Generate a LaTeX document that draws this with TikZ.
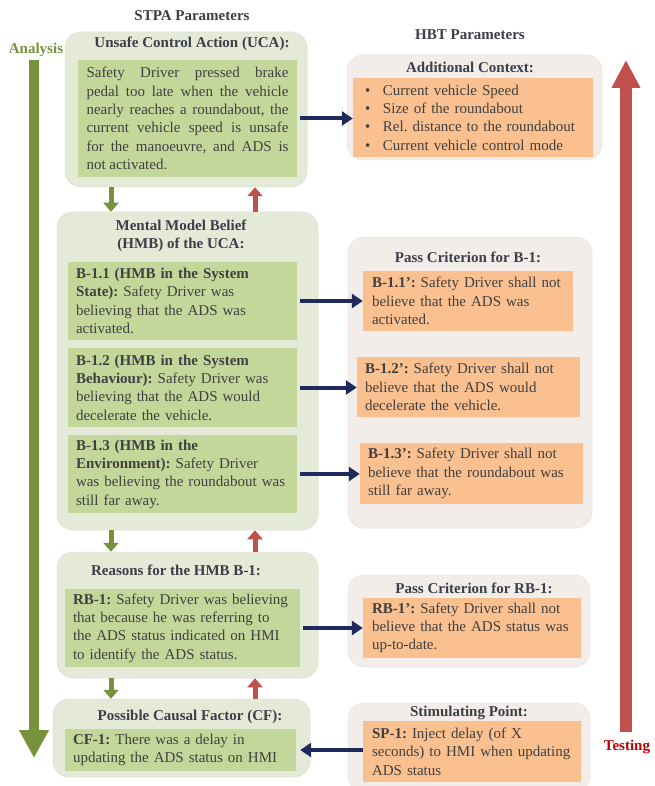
\documentclass[tikz,border=0pt]{standalone}
\usepackage{fontspec}
\setmainfont{Liberation Serif}
\usetikzlibrary{arrows.meta}
\definecolor{outg}{RGB}{228,233,216}
\definecolor{ing}{RGB}{196,215,155}
\definecolor{outb}{RGB}{242,237,232}
\definecolor{inb}{RGB}{250,192,144}
\definecolor{navyc}{RGB}{31,42,92}
\definecolor{greenc}{RGB}{118,146,60}
\definecolor{redc}{RGB}{192,80,77}
\definecolor{txt}{RGB}{64,64,64}
\definecolor{ttlc}{RGB}{60,62,72}
\definecolor{testc}{RGB}{192,0,0}
\newcommand{\bodyf}{\frenchspacing\hyphenpenalty=10000\fontsize{15}{18.3}\selectfont}
\frenchspacing
\begin{document}
\begin{tikzpicture}[x=1pt,y=-1pt,
  outerg/.style={fill=outg, rounded corners=16pt, inner sep=0, draw=outg!90!gray, line width=0.5pt},
  outerb/.style={fill=outb, rounded corners=16pt, inner sep=0, draw=outb!90!gray, line width=0.5pt},
  ingbox/.style={fill=ing, inner sep=0, align=left, font=\bodyf, text=txt},
  inbbox/.style={fill=inb, inner sep=0, align=left, font=\bodyf, text=txt},
  ttl/.style={font=\bodyf\bfseries, text=ttlc, inner sep=0, align=center},
  navyarr/.style={draw=navyc, line width=4pt, -{Triangle[length=11pt,width=14pt]}},
  garr/.style={draw=greenc, line width=5pt, -{Triangle[length=9pt,width=15pt]}},
  rarr/.style={draw=redc, line width=5pt, -{Triangle[length=9pt,width=15pt]}}
]
\useasboundingbox (0,0) rectangle (654,786);
\fill[white] (0,0) rectangle (654,786);

% headers
\node[ttl] (stpa) at (192,16) {STPA Parameters};
\node[ttl] (hbt) at (470,35) {HBT Parameters};
\node[ttl, text=greenc] (analysis) at (36,50) {Analysis};
\node[ttl, text=testc] (testing) at (627,747) {Testing};

% big arrows
\coordinate (gtop) at (34,60);
\coordinate (gbot) at (34,758);
\coordinate (rbot) at (626,732);
\coordinate (rtop) at (626,60);
\draw[draw=greenc, line width=10pt, -{Triangle[length=28pt,width=28pt]}] (gtop) -- (gbot);
\draw[draw=redc, line width=12pt, -{Triangle[length=28pt,width=27pt]}] (rbot) -- (rtop);

% UCA
\node[outerg, minimum width=242, minimum height=155] (uca) at (186,109.5) {};
\node[ttl] (ucat) at (192,44) {Unsafe Control Action (UCA):};
\node[ingbox, align=justify, text width=202, minimum width=219, minimum height=117] (ucain) at (187.5,118.5)
 {Safety Driver pressed brake\linebreak pedal too late when the vehicle\linebreak nearly reaches a roundabout, the\linebreak current vehicle speed is unsafe\linebreak for the manoeuvre, and ADS is\linebreak not activated.};

% Additional context
\node[outerb, minimum width=255, minimum height=105] (ctx) at (474.5,107.5) {};
\node[ttl] (ctxt) at (470,67) {Additional Context:};
\node[inbbox, text width=216, minimum width=240, minimum height=79] (ctxin) at (473,117.5)
 {\makebox[18pt][l]{•}Current vehicle Speed\\
  \makebox[18pt][l]{•}Size of the roundabout\\
  \makebox[18pt][l]{•}Rel. distance to the roundabout\\
  \makebox[18pt][l]{•}Current vehicle control mode};

% HMB
\node[outerg, minimum width=261, minimum height=318] (hmb) at (187.5,371) {};
\node[ttl] (hmbt) at (181,235.5) {Mental Model Belief\\(HMB) of the UCA:};
\node[ingbox, text width=213, minimum width=229, minimum height=78] (b11) at (182.5,301)
 {\textbf{B-1.1 (HMB in the System}\\\textbf{State):} Safety Driver was\\believing that the ADS was\\activated.};
\node[ingbox, text width=213, minimum width=229, minimum height=79] (b12) at (182.5,387.5)
 {\textbf{B-1.2 (HMB in the System}\\\textbf{Behaviour):} Safety Driver was\\believing that the ADS would\\decelerate the vehicle.};
\node[ingbox, text width=213, minimum width=229, minimum height=78] (b13) at (182.5,474)
 {\textbf{B-1.3 (HMB in the}\\\textbf{Environment):} Safety Driver\\was believing the roundabout was\\still far away.};

% Pass B-1
\node[outerb, minimum width=244, minimum height=291] (pb) at (470,382.5) {};
\node[ttl] (pbt) at (468,257) {Pass Criterion for B-1:};
\node[inbbox, text width=192, minimum width=210, minimum height=60] (b11p) at (468,301)
 {\textbf{B-1.1’:} Safety Driver shall not\\believe that the ADS was\\activated.};
\node[inbbox, text width=207, minimum width=223, minimum height=60] (b12p) at (468.5,387)
 {\textbf{B-1.2’:} Safety Driver shall not\\believe that the ADS would\\decelerate the vehicle.};
\node[inbbox, text width=207, minimum width=223, minimum height=61] (b13p) at (471.5,473.5)
 {\textbf{B-1.3’:} Safety Driver shall not\\believe that the roundabout was\\still far away.};

% Reasons
\node[outerg, minimum width=261, minimum height=126] (rs) at (187.5,615) {};
\node[ttl] (rst) at (176,570) {Reasons for the HMB B-1:};
\node[ingbox, text width=219, minimum width=235, minimum height=78] (rb1) at (182.5,628)
 {\textbf{RB-1:} Safety Driver was believing\\that because he was referring to\\the ADS status indicated on HMI\\to identify the ADS status.};

% Pass RB-1
\node[outerb, minimum width=242, minimum height=92] (prb) at (469,621) {};
\node[ttl] (prbt) at (474,588) {Pass Criterion for RB-1:};
\node[inbbox, text width=200, minimum width=218, minimum height=60] (rb1p) at (472,628)
 {\textbf{RB-1’:} Safety Driver shall not\\believe that the ADS status was\\up-to-date.};

% CF
\node[outerg, minimum width=257, minimum height=78] (cf) at (181.5,738) {};
\node[ttl] (cft) at (190,717) {Possible Causal Factor (CF):};
\node[ingbox, text width=215, minimum width=231, minimum height=42] (cf1) at (180.5,750)
 {\textbf{CF-1:} There was a delay in\\updating the ADS status on HMI};

% SP
\node[outerb, minimum width=242, minimum height=89] (sp) at (469,747.5) {};
\node[ttl] (spt) at (469,713) {Stimulating Point:};
\node[inbbox, text width=200, minimum width=218, minimum height=61] (sp1) at (472,751.5)
 {\textbf{SP-1:} Inject delay (of X\\seconds) to HMI when updating\\ADS status};

% navy connectors
\draw[navyarr] ([xshift=3pt]ucain.east) -- (ucain.east -| ctxin.west);
\draw[navyarr] ([xshift=3pt]b11.east) -- (b11.east -| b11p.west);
\draw[navyarr] ([xshift=3pt]b12.east) -- (b12.east -| b12p.west);
\draw[navyarr] ([xshift=3pt]b13.east) -- (b13.east -| b13p.west);
\draw[navyarr] ([xshift=3pt]rb1.east) -- (rb1.east -| rb1p.west);
\draw[navyarr] (cf1.east -| sp1.west) -- ([xshift=4pt]cf1.east);

% small vertical arrows
\coordinate (gx) at (111,0);
\coordinate (rx) at (255,0);
\draw[garr] (uca.south -| gx) -- (hmb.north -| gx);
\draw[rarr] (hmb.north -| rx) -- (uca.south -| rx);
\draw[garr] (hmb.south -| gx) -- (rs.north -| gx);
\draw[rarr] (rs.north -| rx) -- (hmb.south -| rx);
\draw[garr] (rs.south -| gx) -- (cf.north -| gx);
\draw[rarr] (cf.north -| rx) -- (rs.south -| rx);
\end{tikzpicture}
\end{document}
